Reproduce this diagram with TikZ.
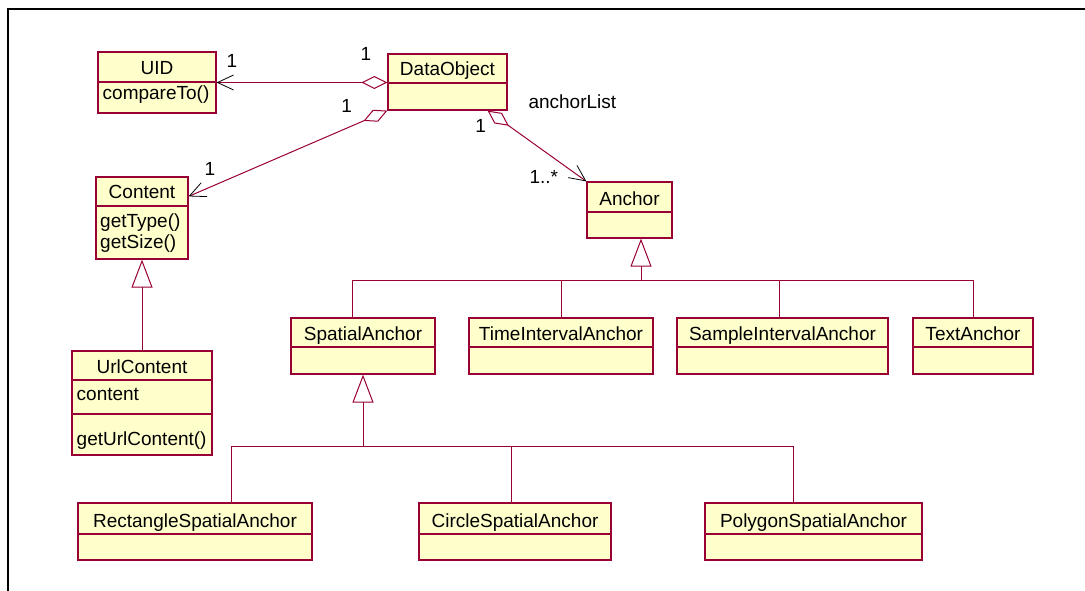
\documentclass[tikz,border=0pt]{standalone}
\usepackage{fontspec}
\setmainfont{Liberation Sans}
\usetikzlibrary{arrows.meta,fit,calc}
\definecolor{umlred}{HTML}{990033}
\definecolor{umlfill}{HTML}{FFFFCC}
\tikzset{
  clsbox/.style={draw=umlred, fill=umlfill, line width=1.2pt, inner sep=0pt, rectangle},
  divline/.style={draw=umlred, line width=1.2pt},
  ttl/.style={anchor=base, inner sep=0pt, font=\fontsize{19}{22}\selectfont},
  mem/.style={anchor=base west, inner sep=0pt, font=\fontsize{19}{22}\selectfont},
  lbl/.style={anchor=base, inner sep=0pt, font=\fontsize{19}{22}\selectfont},
  lblw/.style={anchor=base west, inner sep=0pt, font=\fontsize{19}{22}\selectfont},
  conn/.style={draw=umlred, line width=1pt},
  assoc/.style={conn, {Diamond[fill=white,length=26pt,width=13pt,line width=1pt]}-{Straight Barb[color=black,length=16pt,width=15pt,line width=0.8pt]}},
  inh/.style={conn, -{Triangle[fill=white,length=28pt,width=21pt,line width=1pt]}},
  frame/.style={draw=black, line width=2.5pt}
}
\newcommand\umlclass[7]{%
  \node[clsbox, fit={(#2,#3) (#4,#5)}] (#1) {};
  \draw[divline] (#2,#6) -- (#4,#6);
  \node[ttl] (#1-t) at ({(#2+#4)/2},{#6-7}) {#7};
}
\begin{document}
\begin{tikzpicture}[x=1pt,y=-1pt]
\useasboundingbox (0,0) rectangle (1085,591);
\draw[frame] (8,591) -- (8,9) -- (1085,9);

\umlclass{uid}{98}{52}{216}{113}{82}{UID}
\node[mem] (uid-m1) at (102.5,99.3) {compareTo()};
\umlclass{dobj}{388}{54}{507}{110}{83}{DataObject}
\umlclass{content}{96}{177}{188}{259}{206}{Content}
\node[mem] (content-m1) at (100,227) {getType()};
\node[mem] (content-m2) at (100,248) {getSize()};
\umlclass{anchor}{587}{182}{672}{238}{212}{Anchor}
\umlclass{urlc}{72}{351}{212}{455}{380}{UrlContent}
\draw[divline] (72,414) -- (212,414);
\node[mem] (urlc-a1) at (76.5,400) {content};
\node[mem] (urlc-m1) at (76.5,445) {getUrlContent()};
\umlclass{spatial}{291}{318}{435}{374}{347}{SpatialAnchor}
\umlclass{timei}{469}{318}{653}{374}{347}{TimeIntervalAnchor}
\umlclass{samplei}{677}{318}{888}{374}{347}{SampleIntervalAnchor}
\umlclass{texta}{913}{318}{1033}{374}{347}{TextAnchor}
\umlclass{rect}{78}{503}{312}{560}{534}{RectangleSpatialAnchor}
\umlclass{circ}{419}{503}{611}{560}{534}{CircleSpatialAnchor}
\umlclass{poly}{705}{503}{922}{560}{534}{PolygonSpatialAnchor}

% associations
\draw[assoc] (dobj.west |- uid.east) -- (uid.east);
\draw[assoc] (dobj.south west) -- ([yshift=-20pt]content.north east);
\draw[assoc] ([xshift=-20pt]dobj.south east) -- (anchor.north west);

\node[lbl] (l1) at (232,68) {1};
\node[lbl] (l2) at (366,60.5) {1};
\node[lbl] (l3) at (346.7,112.7) {1};
\node[lbl] (l4) at (210,176) {1};
\node[lbl] (l5) at (480.7,132.7) {1};
\node[lblw] (l6) at (529.3,183.3) {1..*};
\node[lblw] (l7) at (528.3,108.3) {anchorList};

% generalizations
\draw[inh] (urlc.north) -- (content.south);

\coordinate (ga) at (641,280);
\draw[inh] (ga) -- (ga |- anchor.south);
\draw[conn] ([xshift=-11pt]spatial.north) |- (texta.north |- ga) -- (texta.north);
\draw[conn] (timei.north) -- (timei.north |- ga);
\draw[conn] ([xshift=-3pt]samplei.north) -- ([xshift=-3pt]samplei.north |- ga);

\coordinate (gs) at (363,446);
\draw[inh] (gs) -- (spatial.south);
\draw[conn] ([xshift=36.5pt]rect.north) |- ([xshift=-20.5pt]poly.north |- gs) -- ([xshift=-20.5pt]poly.north);
\draw[conn] ([xshift=-4pt]circ.north) -- ([xshift=-4pt]circ.north |- gs);
\end{tikzpicture}
\end{document}
